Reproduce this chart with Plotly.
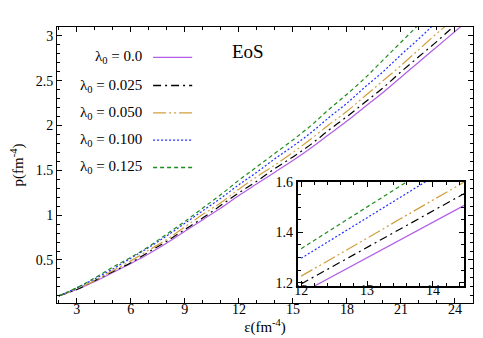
import plotly.graph_objects as go

# energy density grid (fm^-4) and pressure curves
eps = [2, 3, 4, 5, 6, 7, 8, 9, 10, 11, 12, 13, 14, 15, 16, 17, 18, 19, 20, 21, 22, 23, 24, 25]
p_000 = [0.10, 0.17, 0.26, 0.36, 0.46, 0.57, 0.69, 0.82, 0.95, 1.08, 1.22, 1.35, 1.48, 1.61, 1.75, 1.90,
         2.05, 2.21, 2.37, 2.54, 2.71, 2.88, 3.05, 3.22]
p_025 = [0.10, 0.17, 0.27, 0.37, 0.47, 0.59, 0.71, 0.84, 0.97, 1.11, 1.25, 1.38, 1.52, 1.65, 1.79, 1.95,
         2.10, 2.26, 2.42, 2.60, 2.77, 2.94, 3.12, 3.29]
p_050 = [0.10, 0.18, 0.27, 0.38, 0.49, 0.61, 0.73, 0.87, 1.01, 1.14, 1.29, 1.43, 1.56, 1.70, 1.85, 2.01,
         2.16, 2.33, 2.50, 2.67, 2.85, 3.03, 3.20, 3.38]
p_100 = [0.10, 0.19, 0.29, 0.40, 0.52, 0.64, 0.77, 0.91, 1.05, 1.19, 1.34, 1.48, 1.63, 1.77, 1.92, 2.09,
         2.25, 2.43, 2.60, 2.79, 2.97, 3.16, 3.35, 3.53]
p_125 = [0.10, 0.19, 0.30, 0.42, 0.53, 0.65, 0.79, 0.93, 1.08, 1.23, 1.39, 1.54, 1.69, 1.84, 2.00, 2.18,
         2.35, 2.53, 2.73, 2.93, 3.13, 3.33, 3.52, 3.71]

# values
eps_in = [12.0, 12.5, 13.0, 13.5, 14.0, 14.5]
pin_000 = [1.158, 1.228, 1.299, 1.369, 1.440, 1.511]
pin_025 = [1.195, 1.268, 1.340, 1.413, 1.485, 1.558]
pin_050 = [1.226, 1.300, 1.377, 1.453, 1.528, 1.604]
pin_100 = [1.297, 1.378, 1.458, 1.539, 1.619, 1.700]
pin_125 = [1.335, 1.418, 1.501, 1.584, 1.667, 1.750]

labels = ['λ<sub>0</sub> = 0.0', 'λ<sub>0</sub> = 0.025', 'λ<sub>0</sub> = 0.050',
          'λ<sub>0</sub> = 0.100', 'λ<sub>0</sub> = 0.125']
colors = ['#b25ee6', '#000000', '#d1a03e', '#1f2eff', '#1e8c1e']
dashes = ['solid', '8px,4px,2px,4px', '13px,3px,2px,3px,2px,3px', '2px,2px', '4px,3px']

main = [p_000, p_025, p_050, p_100, p_125]
inset = [pin_000, pin_025, pin_050, pin_100, pin_125]

FONT = 'Liberation Serif'

fig = go.Figure()

for lab, col, dsh, pm, pi in zip(labels, colors, dashes, main, inset):
    fig.add_trace(go.Scatter(x=eps, y=pm, mode='lines', name=lab, showlegend=False,
                             line=dict(color=col, width=1.2, dash=dsh, shape='spline')))
    fig.add_trace(go.Scatter(x=eps_in, y=pi, mode='lines', name=lab, showlegend=False,
                             xaxis='x2', yaxis='y2',
                             line=dict(color=col, width=1.2, dash=dsh)))

# hand-made legend: text on the left, line sample on the right
row_y = [0.890, 0.788, 0.689, 0.590, 0.491]
for lab, col, dsh, ry in zip(labels, colors, dashes, row_y):
    fig.add_annotation(x=0.209, y=ry, xref='paper', yref='paper', text=lab, showarrow=False,
                       xanchor='right', yanchor='middle', font=dict(size=15, family=FONT, color='black'))
    fig.add_shape(type='line', xref='paper', yref='paper', x0=0.231, x1=0.325, y0=ry, y1=ry,
                  line=dict(color=col, width=1.4, dash=dsh))

fig.add_annotation(x=0.459, y=0.912, xref='paper', yref='paper', text='EoS', showarrow=False,
                   xanchor='center', yanchor='middle', font=dict(size=19, family=FONT, color='black'))

axis_common = dict(showgrid=False, zeroline=False, showline=True, linecolor='black', mirror='allticks',
                   ticks='inside', tickcolor='black', tickfont=dict(size=14, family=FONT, color='black'))

fig.update_layout(
    width=483, height=338,
    margin=dict(l=49, r=18, t=12, b=43),
    paper_bgcolor='white', plot_bgcolor='white',
    font=dict(family=FONT, color='black'),
    xaxis=dict(range=[1.9, 25], domain=[0, 1], tick0=3, dtick=3, ticklen=5, linewidth=1,
               ticklabelstandoff=-7,
               minor=dict(dtick=1, ticks='inside', ticklen=3, tickcolor='black'),
               title=dict(text='ε(fm<sup>-4</sup>)', font=dict(size=15, family=FONT), standoff=0),
               automargin=False, **axis_common),
    yaxis=dict(range=[0.02, 3.1], domain=[0, 1], tick0=0.5, dtick=0.5, ticklen=5, linewidth=1,
               minor=dict(dtick=0.1, ticks='inside', ticklen=3, tickcolor='black'),
               title=dict(text='p(fm<sup>-4</sup>)', font=dict(size=15, family=FONT), standoff=17),
               automargin=False, **axis_common),
    xaxis2=dict(range=[11.95, 14.47], domain=[0.579, 0.978], anchor='y2', tick0=12, dtick=1,
                ticklen=5, linewidth=2, ticklabelstandoff=-10,
                minor=dict(dtick=0.2, ticks='inside', ticklen=3, tickcolor='black'),
                **axis_common),
    yaxis2=dict(range=[1.185, 1.6], domain=[0.060, 0.438], anchor='x2', tick0=1.2, dtick=0.2,
                tickformat='.1f', ticklen=5, linewidth=2,
                minor=dict(dtick=0.05, ticks='inside', ticklen=3, tickcolor='black'),
                **axis_common),
)

fig.write_html("out.html")
